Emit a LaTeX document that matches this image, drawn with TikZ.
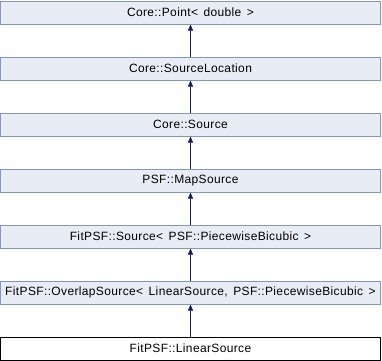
\documentclass[tikz,border=0pt]{standalone}
\usepackage{fontspec}
\setmainfont{Liberation Sans}
\newfontfamily\classfont[LetterSpace=3.0,WordSpace=1.5]{Liberation Sans}
\usetikzlibrary{arrows.meta}
\definecolor{boxfill}{HTML}{E8ECF5}
\definecolor{boxline}{HTML}{7F95CC}
\definecolor{edgecol}{HTML}{191970}
\begin{document}
\begin{tikzpicture}[x=1pt,y=-1pt,
  classbox/.style={draw=boxline,fill=boxfill,line width=1pt,minimum width=380pt,minimum height=23pt,inner sep=0pt,
    font=\classfont\fontsize{12}{14}\selectfont,anchor=north},
  leafbox/.style={classbox,draw=black,fill=white},
  inherit/.style={draw=edgecol,line width=0.9pt,-{Triangle[width=5pt,length=6pt]}}]
\useasboundingbox (0,0) rectangle (382,360);
\node[classbox] (p)  at (190.5,0.5)   {Core::Point< double >};
\node[classbox] (sl) at (190.5,56.5)  {Core::SourceLocation};
\node[classbox] (cs) at (190.5,112.5) {Core::Source};
\node[classbox] (ms) at (190.5,168.5) {PSF::MapSource};
\node[classbox] (fs) at (190.5,224.5) {FitPSF::Source< PSF::PiecewiseBicubic >};
\node[classbox] (os) at (190.5,280.5) {FitPSF::OverlapSource< LinearSource, PSF::PiecewiseBicubic >};
\node[leafbox]  (ls) at (190.5,336.5) {FitPSF::LinearSource};
\foreach \a/\b in {sl/p,cs/sl,ms/cs,fs/ms,os/fs,ls/os}
  \draw[inherit] (\a.north) -- (\b.south);
\end{tikzpicture}
\end{document}
